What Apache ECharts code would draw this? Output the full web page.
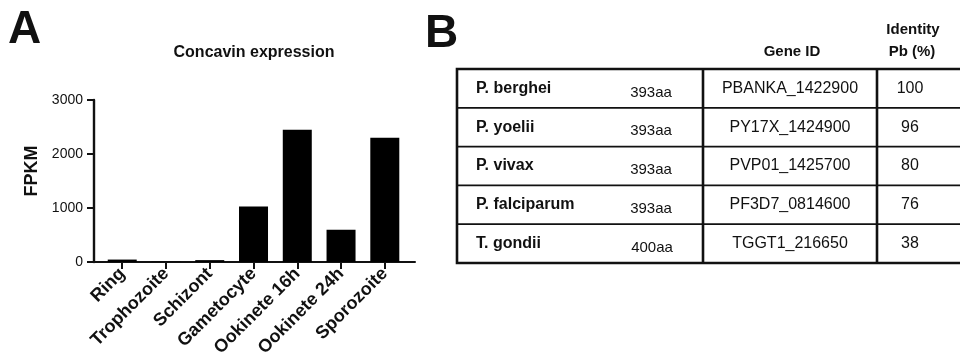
<!DOCTYPE html>
<html><head><meta charset="utf-8">
<script src="https://cdn.jsdelivr.net/npm/echarts@6/dist/echarts.min.js"></script>
<style>html,body{margin:0;padding:0;background:#fff}#c{width:960px;height:354px}</style>
</head><body><div id="c"></div>
<script>
// ---- data ----
const stages = ['Ring','Trophozoite','Schizont','Gametocyte','Ookinete 16h','Ookinete 24h','Sporozoite'];
const fpkm = [45, 5, 35, 1030, 2450, 595, 2300];
const yTicks = [0, 1000, 2000, 3000];

const species = ['P. berghei','P. yoelii','P. vivax','P. falciparum','T. gondii'];
const lengths = ['393aa','393aa','393aa','393aa','400aa'];
const geneIds = ['PBANKA_1422900','PY17X_1424900','PVP01_1425700','PF3D7_0814600','TGGT1_216650'];
const identity = ['100','96','80','76','38'];

const FONT = '"Liberation Sans", Arial, Helvetica, sans-serif';
const INK = '#111';

// ---- table graphics ----
const tX = 457, tY = 69, rowH = 38.8, tR = 975;
const col1 = 703, col2 = 877;
const g = [];
g.push({type:'text', left: 8, top: 7, style:{text:'A', font:'bold 46px '+FONT, fill:INK}});
g.push({type:'text', left: 425, top: 11, style:{text:'B', font:'bold 46px '+FONT, fill:INK}});
g.push({type:'text', x: 254, y: 53, style:{text:'Concavin expression', font:'bold 16px '+FONT, fill:INK, textAlign:'center', textVerticalAlign:'middle'}});
g.push({type:'text', x: 32, y: 171, rotation: Math.PI / 2, style:{text:'FPKM', font:'bold 18px '+FONT, fill:INK, textAlign:'center', textVerticalAlign:'middle'}});
g.push({type:'text', x: 792, y: 52, style:{text:'Gene ID', font:'bold 15px '+FONT, fill:INK, textAlign:'center', textVerticalAlign:'middle'}});
g.push({type:'text', x: 913, y: 30, style:{text:'Identity', font:'bold 15px '+FONT, fill:INK, textAlign:'center', textVerticalAlign:'middle'}});
g.push({type:'text', x: 912, y: 52, style:{text:'Pb (%)', font:'bold 15px '+FONT, fill:INK, textAlign:'center', textVerticalAlign:'middle'}});
const nRows = species.length;
const tB = tY + rowH * nRows;
g.push({type:'rect', shape:{x:tX, y:tY, width:tR - tX, height:tB - tY}, style:{fill:'none', stroke:INK, lineWidth:2.6}});
g.push({type:'line', shape:{x1:col1, y1:tY, x2:col1, y2:tB}, style:{stroke:INK, lineWidth:2.6}});
g.push({type:'line', shape:{x1:col2, y1:tY, x2:col2, y2:tB}, style:{stroke:INK, lineWidth:2.6}});
for (let i = 1; i < nRows; i++) {
  const y = tY + rowH * i;
  g.push({type:'line', shape:{x1:tX, y1:y, x2:tR, y2:y}, style:{stroke:INK, lineWidth:1.8}});
}
for (let i = 0; i < nRows; i++) {
  const cy = tY + rowH * (i + 0.5);
  g.push({type:'text', x: 476, y: cy, style:{text:species[i], font:'bold 16px '+FONT, fill:INK, textVerticalAlign:'middle'}});
  g.push({type:'text', x: i === 4 ? 652 : 651, y: cy + 4, style:{text:lengths[i], font:'15px '+FONT, fill:INK, textAlign:'center', textVerticalAlign:'middle'}});
  g.push({type:'text', x: 790, y: cy, style:{text:geneIds[i], font:'16px '+FONT, fill:INK, textAlign:'center', textVerticalAlign:'middle'}});
  g.push({type:'text', x: 910, y: cy, style:{text:identity[i], font:'16px '+FONT, fill:INK, textAlign:'center', textVerticalAlign:'middle'}});
}

const chart = echarts.init(document.getElementById('c'), null, {renderer:'canvas'});
const idx = stages.map((_, i) => i);
chart.setOption({
  animation: false,
  backgroundColor: '#fff',
  grid: {left: 94, top: 100, width: 321, height: 162, containLabel: false, outerBoundsMode: 'none'},
  xAxis: {
    type: 'value', min: -0.645, max: 6.69,
    axisLine: {show: true, onZero: false, lineStyle: {color: INK, width: 2}},
    axisTick: {show: true, inside: false, customValues: idx, length: 7, lineStyle: {color: INK, width: 2}},
    axisLabel: {customValues: idx, formatter: v => stages[Math.round(v)], rotate: 45, color: INK,
      fontFamily: FONT, fontWeight: 'bold', fontSize: 18, margin: 9},
    splitLine: {show: false}
  },
  yAxis: {
    type: 'value', min: 0, max: 3000, interval: 1000,
    axisLine: {show: true, onZero: false, lineStyle: {color: INK, width: 2.4}},
    axisTick: {show: true, inside: false, length: 7, lineStyle: {color: INK, width: 2}},
    axisLabel: {color: INK, fontFamily: FONT, fontSize: 14, margin: 11,
      formatter: v => yTicks.includes(v) ? String(v) : ''},
    splitLine: {show: false}
  },
  series: [{
    type: 'bar', barWidth: 29,
    data: fpkm.map((v, i) => [i, v]),
    itemStyle: {color: '#000'}
  }],
  graphic: g
});
</script></body></html>
